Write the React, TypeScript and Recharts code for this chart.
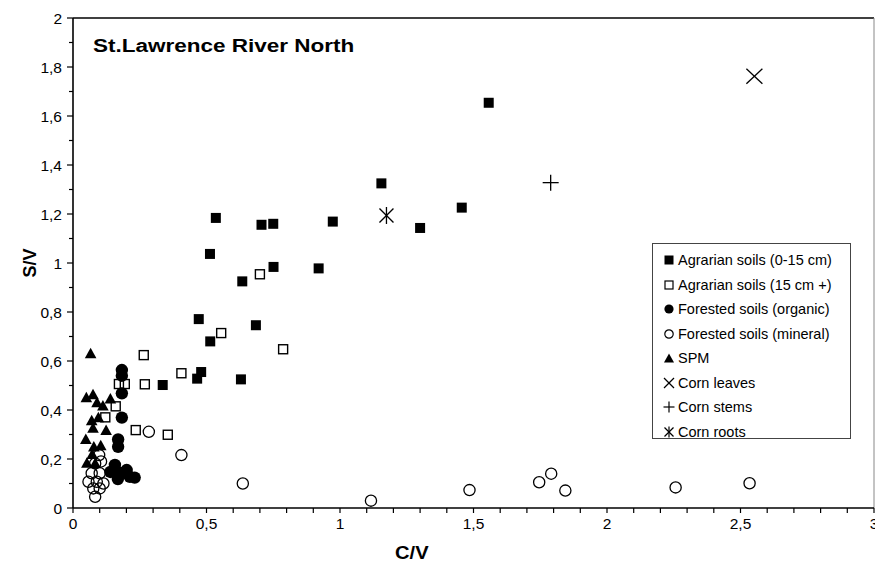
import React from 'react';
import { ScatterChart, Scatter, XAxis, YAxis, ReferenceLine, Legend, Label } from 'recharts';

const FONT = '"Liberation Sans", Arial, Helvetica, sans-serif';

// ---- Data ----
const agrarianTopX = [0.336, 0.465, 0.48, 0.471, 0.514, 0.513, 0.535, 0.629, 0.634, 0.685, 0.706, 0.75, 0.751, 0.92, 0.973, 1.155, 1.3, 1.456, 1.557];
const agrarianTopY = [0.502, 0.528, 0.555, 0.771, 0.68, 1.037, 1.184, 0.525, 0.925, 0.746, 1.156, 1.16, 0.984, 0.978, 1.169, 1.325, 1.143, 1.226, 1.654];

const agrarianDeepX = [0.121, 0.16, 0.172, 0.194, 0.235, 0.265, 0.269, 0.355, 0.406, 0.555, 0.7, 0.787];
const agrarianDeepY = [0.37, 0.415, 0.506, 0.506, 0.318, 0.624, 0.505, 0.299, 0.55, 0.714, 0.954, 0.648];

const forestOrgX = [0.183, 0.183, 0.183, 0.183, 0.169, 0.169, 0.157, 0.14, 0.179, 0.201, 0.213, 0.168, 0.231];
const forestOrgY = [0.563, 0.54, 0.468, 0.369, 0.28, 0.25, 0.176, 0.147, 0.143, 0.155, 0.127, 0.118, 0.124];

const forestMinX = [0.098, 0.083, 0.105, 0.07, 0.1, 0.058, 0.089, 0.114, 0.076, 0.1, 0.083, 0.284, 0.406, 0.636, 1.116, 1.485, 1.746, 1.791, 1.844, 2.257, 2.534];
const forestMinY = [0.216, 0.182, 0.19, 0.142, 0.142, 0.107, 0.107, 0.1, 0.08, 0.08, 0.046, 0.311, 0.216, 0.1, 0.03, 0.073, 0.105, 0.14, 0.071, 0.084, 0.101];

const spmX = [0.066, 0.05, 0.075, 0.09, 0.112, 0.14, 0.07, 0.095, 0.075, 0.124, 0.048, 0.078, 0.104, 0.072, 0.052, 0.083];
const spmY = [0.63, 0.45, 0.462, 0.43, 0.416, 0.445, 0.356, 0.368, 0.326, 0.316, 0.28, 0.249, 0.254, 0.218, 0.183, 0.182];

const cornLeavesX = [2.552];
const cornLeavesY = [1.762];
const cornStemsX = [1.789];
const cornStemsY = [1.328];
const cornRootsX = [1.174];
const cornRootsY = [1.194];

const seriesNames = [
  'Agrarian soils (0-15 cm)',
  'Agrarian soils (15 cm +)',
  'Forested soils (organic)',
  'Forested soils (mineral)',
  'SPM',
  'Corn leaves',
  'Corn stems',
  'Corn roots',
];

const xTicks = Array.from({ length: 31 }, (_, i) => i / 10);
const yTicks = Array.from({ length: 21 }, (_, i) => i / 10);
const xTickLabels = ['0', '0,5', '1', '1,5', '2', '2,5', '3'];
const yTickLabels = ['0', '0,2', '0,4', '0,6', '0,8', '1', '1,2', '1,4', '1,6', '1,8', '2'];

const zip = (xs: number[], ys: number[]) => xs.map((x, i) => ({ x, y: ys[i] }));

// ---- Marker shapes ----
const FilledSquare = (p: any) => <rect x={p.cx - 5} y={p.cy - 5} width={10} height={10} fill="#000" />;
const OpenSquare = (p: any) => (
  <rect x={p.cx - 4.5} y={p.cy - 4.5} width={9} height={9} fill="none" stroke="#000" strokeWidth={1.4} />
);
const FilledCircle = (p: any) => <circle cx={p.cx} cy={p.cy} r={6.2} fill="#000" />;
const OpenCircle = (p: any) => <circle cx={p.cx} cy={p.cy} r={5.6} fill="none" stroke="#000" strokeWidth={1.3} />;
const Triangle = (p: any) => (
  <polygon points={`${p.cx},${p.cy - 6} ${p.cx + 5.8},${p.cy + 4.5} ${p.cx - 5.8},${p.cy + 4.5}`} fill="#000" />
);
const XMark = (p: any) => (
  <g stroke="#000" strokeWidth={1.3}>
    <line x1={p.cx - 8} y1={p.cy - 7.5} x2={p.cx + 8} y2={p.cy + 7.5} />
    <line x1={p.cx - 8} y1={p.cy + 7.5} x2={p.cx + 8} y2={p.cy - 7.5} />
  </g>
);
const PlusMark = (p: any) => (
  <g stroke="#000" strokeWidth={1.3}>
    <line x1={p.cx - 8} y1={p.cy} x2={p.cx + 8} y2={p.cy} />
    <line x1={p.cx} y1={p.cy - 8} x2={p.cx} y2={p.cy + 8} />
  </g>
);
const StarMark = (p: any) => (
  <g stroke="#000" strokeWidth={1.3}>
    <line x1={p.cx - 7} y1={p.cy - 7} x2={p.cx + 7} y2={p.cy + 7} />
    <line x1={p.cx - 7} y1={p.cy + 7} x2={p.cx + 7} y2={p.cy - 7} />
    <line x1={p.cx} y1={p.cy - 8.5} x2={p.cx} y2={p.cy + 8.5} />
  </g>
);

const shapes = [FilledSquare, OpenSquare, FilledCircle, OpenCircle, Triangle, XMark, PlusMark, StarMark];
const seriesData = [
  zip(agrarianTopX, agrarianTopY),
  zip(agrarianDeepX, agrarianDeepY),
  zip(forestOrgX, forestOrgY),
  zip(forestMinX, forestMinY),
  zip(spmX, spmY),
  zip(cornLeavesX, cornLeavesY),
  zip(cornStemsX, cornStemsY),
  zip(cornRootsX, cornRootsY),
];

// ---- Legend icons ----
const LegendIcon = ({ i }: { i: number }) => {
  const c = 6;
  switch (i) {
    case 0: return <rect x={1.5} y={1.5} width={9} height={9} fill="#000" />;
    case 1: return <rect x={2} y={2} width={8} height={8} fill="none" stroke="#000" strokeWidth={1.2} />;
    case 2: return <circle cx={c} cy={c} r={4.6} fill="#000" />;
    case 3: return <circle cx={c} cy={c} r={4.2} fill="none" stroke="#000" strokeWidth={1.2} />;
    case 4: return <polygon points="6,1.5 11,10.5 1,10.5" fill="#000" />;
    case 5: return (
      <g stroke="#000" strokeWidth={1.2}>
        <line x1={1} y1={1} x2={11} y2={11} />
        <line x1={1} y1={11} x2={11} y2={1} />
      </g>
    );
    case 6: return (
      <g stroke="#000" strokeWidth={1.2}>
        <line x1={0.5} y1={6} x2={11.5} y2={6} />
        <line x1={6} y1={0.5} x2={6} y2={11.5} />
      </g>
    );
    default: return (
      <g stroke="#000" strokeWidth={1.2}>
        <line x1={1.5} y1={1.5} x2={10.5} y2={10.5} />
        <line x1={1.5} y1={10.5} x2={10.5} y2={1.5} />
        <line x1={6} y1={0.5} x2={6} y2={11.5} />
      </g>
    );
  }
};

const LegendBox = () => (
  <div
    style={{
      width: 199,
      height: 196,
      boxSizing: 'border-box',
      border: '1px solid #444',
      background: '#fff',
      paddingTop: 4,
      paddingLeft: 10,
      fontFamily: FONT,
      fontSize: 14.5,
      color: '#000',
    }}
  >
    {seriesNames.map((n, i) => (
      <div key={n} style={{ display: 'flex', alignItems: 'center', height: 24.5, whiteSpace: 'nowrap' }}>
        <svg width={12} height={12} style={{ marginRight: 3, flex: 'none' }}>
          <LegendIcon i={i} />
        </svg>
        <span>{n}</span>
      </div>
    ))}
  </div>
);

// ---- Ticks ----
const isMult = (v: number, step: number) => Math.abs(v / step - Math.round(v / step)) < 1e-6;

const XTick = (p: any) => {
  const v = p.payload.value;
  const x = p.x;
  const y = p.y;
  const major = isMult(v, 0.5);
  return (
    <g>
      <line x1={x} x2={x} y1={y} y2={y + 5} stroke="#000" strokeWidth={1.2} />
      {major && (
        <text x={x} y={y + 21} textAnchor="middle" fontFamily={FONT} fontSize={15.5} fill="#000">
          {xTickLabels[Math.round(v / 0.5)]}
        </text>
      )}
    </g>
  );
};

const YTick = (p: any) => {
  const v = p.payload.value;
  const x = p.x;
  const y = p.y;
  const major = isMult(v, 0.2);
  return (
    <g>
      <line x1={x - (major ? 6 : 4)} x2={x} y1={y} y2={y} stroke="#000" strokeWidth={1.2} />
      {major && (
        <text x={x - 11} y={y + 5.5} textAnchor="end" fontFamily={FONT} fontSize={15.5} fill="#000">
          {yTickLabels[Math.round(v / 0.2)]}
        </text>
      )}
    </g>
  );
};

export default function App() {
  return (
    <div style={{ position: 'absolute', left: 0, top: 0, width: 875, height: 568, background: '#fff' }}>
      <ScatterChart width={875} height={568} margin={{ top: 18, right: 1, bottom: 0, left: 0 }}>
        <XAxis
          type="number"
          dataKey="x"
          domain={[0, 3]}
          ticks={xTicks}
          interval={0}
          tick={<XTick />}
          tickLine={false}
          tickSize={0}
          tickMargin={0}
          height={60}
          axisLine={{ stroke: '#000', strokeWidth: 1.6 }}
          allowDataOverflow
        >
          <Label
            content={(lp: any) => {
              const vb = lp.viewBox || { x: 73, y: 508, width: 801 };
              const cx = vb.x + vb.width * 0.423;
              const cy = vb.y + 51;
              return (
                <text x={cx} y={cy} transform={`translate(${cx} ${cy}) scale(1.12 1) translate(${-cx} ${-cy})`} textAnchor="middle" fontFamily={FONT} fontSize={18} fontWeight="bold" fill="#000">
                  C/V
                </text>
              );
            }}
          />
        </XAxis>
        <YAxis
          type="number"
          dataKey="y"
          domain={[0, 2]}
          ticks={yTicks}
          interval={0}
          tick={<YTick />}
          tickLine={false}
          tickSize={0}
          tickMargin={0}
          width={73}
          axisLine={{ stroke: '#000', strokeWidth: 1.6 }}
          allowDataOverflow
        >
          <Label
            content={(lp: any) => {
              const vb = lp.viewBox || { x: 0, y: 18, width: 73, height: 490 };
              const cx = vb.x + 36;
              const cy = vb.y + vb.height / 2;
              return (
                <text x={cx} y={cy} transform={`rotate(-90 ${cx} ${cy})`} textAnchor="middle" fontFamily={FONT} fontSize={18} fontWeight="bold" fill="#000">
                  S/V
                </text>
              );
            }}
          />
        </YAxis>
        <ReferenceLine y={2} stroke="#000" strokeWidth={1.6} />
        <ReferenceLine x={3} stroke="#888" strokeWidth={1} />
        {seriesData.map((d, i) => (
          <Scatter key={seriesNames[i]} name={seriesNames[i]} data={d} shape={shapes[i]} isAnimationActive={false} />
        ))}
        <Legend
          layout="horizontal"
          align="center"
          verticalAlign="middle"
          content={() => <LegendBox />}
          wrapperStyle={{ position: 'absolute', left: 652, top: 243, width: 199, height: 196 }}
        />
      </ScatterChart>
      <div
        style={{
          position: 'absolute',
          left: 93,
          top: 36,
          fontFamily: FONT,
          fontWeight: 'bold',
          fontSize: 18,
          color: '#000',
          lineHeight: '21px',
          whiteSpace: 'nowrap',
          transform: 'scaleX(1.25)',
          transformOrigin: 'left center',
        }}
      >
        St.Lawrence River North
      </div>
    </div>
  );
}
